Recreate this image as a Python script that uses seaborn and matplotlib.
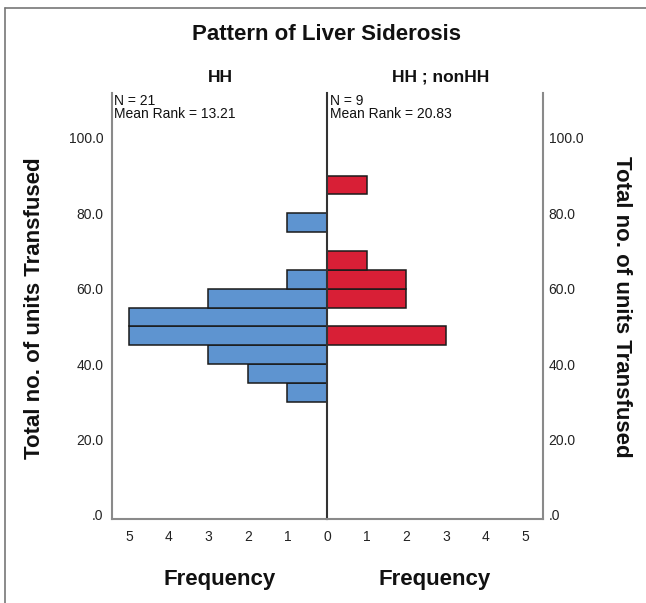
import numpy as np
import pandas as pd
import seaborn as sns
import matplotlib
matplotlib.use("Agg")
import matplotlib.pyplot as plt
from matplotlib.lines import Line2D

# ---- data ----
bin_lower = [30, 35, 40, 45, 50, 55, 60, 65, 70, 75, 80, 85]
hh_counts = [1, 2, 3, 5, 5, 3, 1, 0, 0, 1, 0, 0]
mixed_counts = [0, 0, 0, 3, 0, 2, 2, 1, 0, 0, 0, 1]
bin_width = 5
ytick_values = [0, 20, 40, 60, 80, 100]
ytick_labels = [".0", "20.0", "40.0", "60.0", "80.0", "100.0"]
left_xticks = [5, 4, 3, 2, 1]
right_xticks = [0, 1, 2, 3, 4, 5]
group_names = ["HH", "HH ; nonHH"]
stats_left = ["N = 21", "Mean Rank = 13.21"]
stats_right = ["N = 9", "Mean Rank = 20.83"]
title = "Pattern of Liver Siderosis"
ylabel = "Total no. of units Transfused"
xlabel = "Frequency"

sns.set_style("white")
plt.rcParams["font.family"] = ["Liberation Sans", "DejaVu Sans"]

W, H = 646, 603
fig = plt.figure(figsize=(W / 100, H / 100), dpi=100)

def fx(px):
    return px / W

def fy(py):
    return 1 - py / H

x_left, x_mid, x_right = 111.7, 327.0, 543.0
y_top, y_bot = 92.7, 519.3
ax1 = fig.add_axes([fx(x_left), fy(y_bot), fx(x_mid - x_left), (y_bot - y_top) / H])
ax2 = fig.add_axes([fx(x_mid), fy(y_bot), fx(x_right - x_mid), (y_bot - y_top) / H])

mids = [b + bin_width / 2 for b in bin_lower]
edges = bin_lower + [bin_lower[-1] + bin_width]
df_hh = pd.DataFrame({"units": mids, "count": hh_counts})
df_mx = pd.DataFrame({"units": mids, "count": mixed_counts})

blue = "#5E94D0"
red = "#D81F36"
for ax, df, col in [(ax1, df_hh, blue), (ax2, df_mx, red)]:
    sns.histplot(data=df, y="units", weights="count", bins=edges, ax=ax,
                 color=col, alpha=1, edgecolor="#1a1a1a", linewidth=1.1)
    for p in list(ax.patches):
        if p.get_width() == 0:
            p.remove()

ylim = (-1.2, 112)
xmax = 5.45
ax1.set_xlim(xmax, 0)
ax2.set_xlim(0, xmax)
for ax in (ax1, ax2):
    ax.set_ylim(*ylim)
    ax.set_xlabel("")
    ax.set_ylabel("")
    ax.grid(False)
    ax.spines["top"].set_visible(False)
    ax.tick_params(length=0, labelsize=10, colors="#222222")

gray = "#8a8a8a"
ax1.spines["right"].set_visible(False)
ax1.spines["left"].set_color(gray)
ax1.spines["bottom"].set_color(gray)
ax1.spines["left"].set_linewidth(1.5)
ax1.spines["bottom"].set_linewidth(1.5)
ax1.set_yticks(ytick_values)
ax1.set_yticklabels(ytick_labels)
ax1.tick_params(axis="y", pad=6)
ax1.set_xticks(left_xticks)
ax1.set_xticklabels([str(v) for v in left_xticks])
ax1.tick_params(axis="x", pad=8)

ax2.spines["left"].set_color("#333333")
ax2.spines["left"].set_linewidth(1.5)
ax2.spines["right"].set_color(gray)
ax2.spines["right"].set_linewidth(1.5)
ax2.spines["bottom"].set_color(gray)
ax2.spines["bottom"].set_linewidth(1.5)
ax2.yaxis.tick_right()
ax2.set_yticks(ytick_values)
ax2.set_yticklabels(ytick_labels)
ax2.tick_params(axis="y", pad=4)
ax2.set_xticks(right_xticks)
ax2.set_xticklabels([str(v) for v in right_xticks])
ax2.tick_params(axis="x", pad=8)

# outer frame (top and left visible)
fig.add_artist(Line2D([fx(5), 1.0], [fy(8), fy(8)], color="#777777", lw=1.2))
fig.add_artist(Line2D([fx(5), fx(5)], [0, fy(8)], color="#777777", lw=1.2))

# texts
fig.text(fx(327), fy(35), title, ha="center", va="center", fontsize=16, fontweight="bold", color="#111111")
fig.text(fx(220), fy(77), group_names[0], ha="center", va="center", fontsize=12.5, fontweight="bold", color="#111111")
fig.text(fx(441), fy(77), group_names[1], ha="center", va="center", fontsize=12.5, fontweight="bold", color="#111111")
for i, s in enumerate(stats_left):
    fig.text(fx(114), fy(101 + 12.5 * i), s, ha="left", va="center", fontsize=10, color="#111111")
for i, s in enumerate(stats_right):
    fig.text(fx(330), fy(101 + 12.5 * i), s, ha="left", va="center", fontsize=10, color="#111111")
fig.text(fx(35), fy(308), ylabel, ha="center", va="center", rotation=90, fontsize=16, fontweight="bold", color="#111111")
fig.text(fx(622), fy(307), ylabel, ha="center", va="center", rotation=270, fontsize=16, fontweight="bold", color="#111111")
fig.text(fx(219.5), fy(580), xlabel, ha="center", va="center", fontsize=16, fontweight="bold", color="#111111")
fig.text(fx(434.5), fy(580), xlabel, ha="center", va="center", fontsize=16, fontweight="bold", color="#111111")

fig.savefig("out.png", dpi=100)
